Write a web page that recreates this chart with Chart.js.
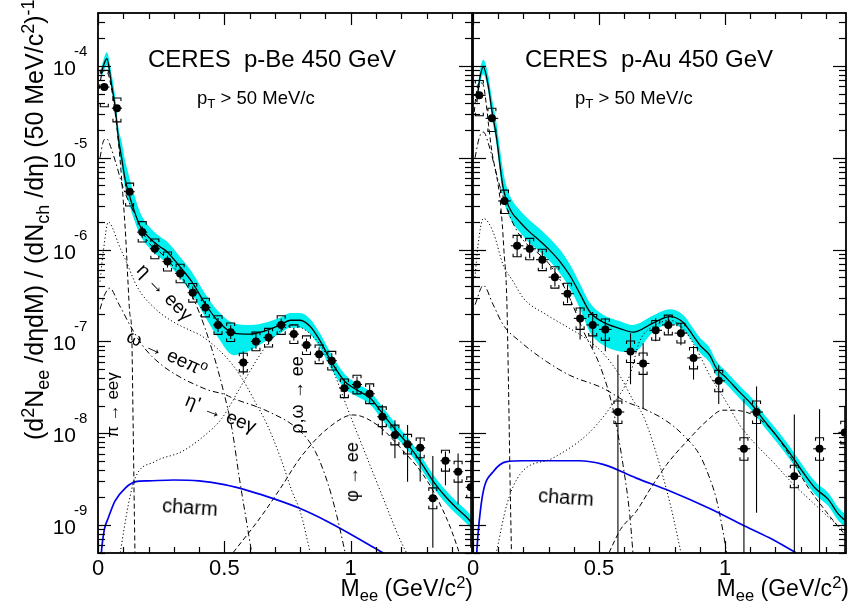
<!DOCTYPE html>
<html>
<head>
<meta charset="utf-8">
<title>CERES p-Be and p-Au 450 GeV</title>
<script src="https://cdn.jsdelivr.net/npm/chart.js@4.4.1/dist/chart.umd.min.js"></script>
<style>
  html,body{margin:0;padding:0;background:#fff;}
  #wrap{position:relative;width:850px;height:609px;overflow:hidden;font-family:"Liberation Sans",Arial,Helvetica,sans-serif;color:#000;}
  canvas{position:absolute;top:0;}
  .t{position:absolute;white-space:pre;line-height:1;}
  .sb{font-size:72%;vertical-align:-0.32em;line-height:0;}
  .sp{font-size:72%;vertical-align:0.5em;line-height:0;}
  .lab{position:absolute;white-space:pre;line-height:1;font-size:18px;}
</style>
</head>
<body>
<div id="wrap">
  <canvas id="cBe" width="476" height="609" style="left:0px"></canvas>
  <canvas id="cAu" width="400" height="609" style="left:450px"></canvas>

  <div class="t" style="left:148px;top:46.7px;font-size:24px">CERES  p-Be 450 GeV</div>
  <div class="t" style="left:525px;top:46.7px;font-size:24px">CERES  p-Au 450 GeV</div>
  <div class="t" style="left:197px;top:88.5px;font-size:18.5px">p<span class="sb">T</span> &gt; 50 MeV/c</div>
  <div class="t" style="left:575px;top:88.5px;font-size:18.5px">p<span class="sb">T</span> &gt; 50 MeV/c</div>

  <div class="t" style="right:377px;top:576.5px;font-size:23px">M<span class="sb">ee</span> (GeV/c<span class="sp">2</span>)</div>
  <div class="t" style="right:1px;top:576.5px;font-size:23px">M<span class="sb">ee</span> (GeV/c<span class="sp">2</span>)</div>

  <div class="t" style="left:22px;top:440px;font-size:25px;transform-origin:0 0;transform:rotate(-90deg)">(d<span class="sp">2</span>N<span class="sb">ee</span> /dηdM) / (dN<span class="sb">ch</span> /dη) (50 MeV/c<span class="sp">2</span>)<span class="sp">-1</span></div>

  <div class="lab" style="left:165px;top:292px;font-size:19px;transform:translate(-50%,-50%) rotate(46deg)">η → eeγ</div>
  <div class="lab" style="left:167px;top:353px;font-size:19px;transform:translate(-50%,-50%) rotate(25deg)">ω → eeπ<span class="sp">o</span></div>
  <div class="lab" style="left:221px;top:413px;font-size:19px;transform:translate(-50%,-50%) rotate(22deg)">η' → eeγ</div>
  <div class="lab" style="left:112px;top:405px;font-size:17px;transform:translate(-50%,-50%) rotate(-90deg)">π → eeγ</div>
  <div class="lab" style="left:297px;top:395px;transform:translate(-50%,-50%) rotate(-90deg)">ρ,ω → ee</div>
  <div class="lab" style="left:352px;top:472px;transform:translate(-50%,-50%) rotate(-90deg)">φ → ee</div>
  <div class="lab" style="left:190px;top:507px;font-size:20px;transform:translate(-50%,-50%) rotate(4deg)">charm</div>
  <div class="lab" style="left:566px;top:497px;font-size:20px;transform:translate(-50%,-50%) rotate(4deg)">charm</div>
</div>

<script>
// ---------------- axes ----------------
const X_MIN = 0, X_MAX = 1.48;
const Y_MIN = 4.95e-10, Y_MAX = 3.78e-4;
const X_TICKS = [0, 0.1, 0.2, 0.3, 0.4, 0.5, 0.6, 0.7, 0.8, 0.9, 1.0, 1.1, 1.2, 1.3, 1.4];
const X_MAJOR = [0, 0.5, 1.0];
const X_TICK_LABELS = ['0', '0.5', '1'];
const Y_DECADES = [-9, -8, -7, -6, -5, -4];

// ---------------- p-Be 450 GeV : data ----------------
const beMass = [0.025,0.075,0.125,0.175,0.225,0.275,0.325,0.375,0.425,0.475,0.525,0.575,0.625,0.675,0.725,0.775,0.825,0.875,0.925,0.975,1.025,1.075,1.125,1.175,1.225,1.275,1.325,1.375,1.425,1.475];
const beYield = [5.89e-5,3.47e-5,4.27e-6,1.55e-6,1.02e-6,7.41e-7,5.50e-7,3.39e-7,2.34e-7,1.51e-7,1.26e-7,5.89e-8,1.00e-7,1.10e-7,1.51e-7,1.20e-7,9.12e-8,7.24e-8,6.17e-8,3.09e-8,3.39e-8,2.69e-8,1.51e-8,9.55e-9,7.59e-9,6.92e-9,1.95e-9,5.01e-9,3.80e-9,2.57e-9];
const beStatUp = [0.06,0.08,0.10,0.15,0.15,0.16,0.17,0.17,0.18,0.19,0.19,0.32,0.20,0.19,0.17,0.17,0.18,0.19,0.20,0.25,0.22,0.25,0.35,0.45,0.62,0.30,1.90,0.26,0.58,1.00];
const beStatDn = [0.06,0.08,0.09,0.13,0.13,0.14,0.14,0.15,0.15,0.16,0.16,0.26,0.17,0.16,0.15,0.15,0.15,0.16,0.17,0.22,0.20,0.22,0.37,0.44,0.61,0.57,0.71,0.46,0.56,0.78];
const beSysUp = [0.52,0.29,0.24,0.30,0.28,0.27,0.26,0.26,0.26,0.26,0.26,0.26,0.26,0.26,0.26,0.26,0.26,0.26,0.26,0.26,0.26,0.28,0.28,0.28,0.28,0.28,0.30,0.30,0.30,0.30];
const beSysDn = [0.39,0.29,0.30,0.22,0.22,0.21,0.21,0.21,0.21,0.21,0.21,0.21,0.21,0.21,0.21,0.21,0.21,0.21,0.21,0.21,0.21,0.22,0.22,0.22,0.22,0.22,0.23,0.23,0.23,0.23];

// ---------------- p-Be : cocktail ----------------
const beTotMass = [0.012,0.021,0.035,0.054,0.067,0.081,0.094,0.107,0.120,0.140,0.166,0.206,0.246,0.272,0.325,0.371,0.424,0.475,0.536,0.602,0.668,0.722,0.761,0.800,0.840,0.880,0.923,0.978,1.025,1.078,1.124,1.176,1.223,1.276,1.328,1.375,1.421,1.461,1.480];
const beTotal = [8.13e-5,1.00e-4,1.20e-4,6.17e-5,3.72e-5,1.62e-5,9.77e-6,5.89e-6,4.27e-6,2.82e-6,1.82e-6,1.32e-6,1.07e-6,9.55e-7,6.46e-7,4.47e-7,2.57e-7,1.66e-7,1.23e-7,1.20e-7,1.32e-7,1.51e-7,1.70e-7,1.70e-7,1.45e-7,1.00e-7,6.03e-8,3.63e-8,2.95e-8,2.40e-8,1.66e-8,1.10e-8,7.76e-9,4.90e-9,2.95e-9,2.04e-9,1.51e-9,1.20e-9,1.05e-9];
const beBandHi = [9.33e-5,1.15e-4,1.41e-4,8.13e-5,4.90e-5,2.14e-5,1.48e-5,9.33e-6,6.76e-6,4.27e-6,2.57e-6,1.74e-6,1.38e-6,1.23e-6,8.32e-7,5.75e-7,3.31e-7,2.14e-7,1.58e-7,1.51e-7,1.62e-7,1.82e-7,2.04e-7,2.04e-7,1.74e-7,1.20e-7,7.24e-8,4.37e-8,3.47e-8,2.82e-8,1.95e-8,1.29e-8,9.12e-9,5.75e-9,3.47e-9,2.40e-9,1.78e-9,1.41e-9,1.23e-9];
const beBandLo = [6.92e-5,8.51e-5,1.02e-4,5.37e-5,3.24e-5,1.35e-5,7.76e-6,4.68e-6,3.39e-6,2.24e-6,1.45e-6,1.02e-6,8.13e-7,7.24e-7,4.90e-7,3.31e-7,1.86e-7,1.10e-7,7.08e-8,7.94e-8,1.02e-7,1.23e-7,1.41e-7,1.41e-7,1.20e-7,8.32e-8,5.01e-8,3.02e-8,2.51e-8,2.04e-8,1.41e-8,9.33e-9,6.61e-9,4.17e-9,2.51e-9,1.74e-9,1.29e-9,1.02e-9,8.91e-10];

const bePi0Mass = [0.005,0.012,0.024,0.039,0.055,0.071,0.087,0.098,0.110,0.118,0.126,0.133,0.139,0.144,0.148];
const bePi0 = [5.62e-5,7.59e-5,8.91e-5,8.32e-5,5.37e-5,2.63e-5,9.77e-6,4.07e-6,1.32e-6,4.79e-7,2.00e-7,1.35e-7,1.26e-8,1.26e-9,2.51e-10];
const beEtaMass = [0.008,0.020,0.034,0.050,0.070,0.100,0.150,0.200,0.250,0.300,0.350,0.400,0.450,0.500,0.530,0.560,0.590,0.620];
const beEta = [1.00e-5,1.48e-5,1.62e-5,1.32e-5,8.91e-6,4.68e-6,2.29e-6,1.20e-6,9.12e-7,6.46e-7,4.17e-7,2.09e-7,8.32e-8,2.63e-8,1.12e-8,3.16e-9,1.00e-9,3.16e-10];
const beOmegaDalMass = [0.008,0.021,0.041,0.060,0.080,0.107,0.158,0.225,0.293,0.372,0.405,0.473,0.534,0.580,0.620,0.668,0.720,0.770,0.800,0.840];
const beOmegaDal = [4.47e-7,9.55e-7,2.00e-6,1.66e-6,1.17e-6,7.94e-7,3.80e-7,2.29e-7,1.66e-7,1.29e-7,1.17e-7,8.32e-8,5.50e-8,3.55e-8,2.24e-8,1.26e-8,5.62e-9,2.24e-9,1.41e-9,5.01e-10];
const beEtaPrMass = [0.008,0.025,0.047,0.080,0.134,0.186,0.253,0.332,0.384,0.436,0.503,0.534,0.670,0.800,0.860,0.910,0.945,0.970,0.985];
const beEtaPr = [2.24e-7,3.16e-7,3.80e-7,2.63e-7,1.38e-7,8.32e-8,5.50e-8,3.98e-8,3.39e-8,2.95e-8,2.63e-8,2.40e-8,1.74e-8,1.05e-8,6.31e-9,2.82e-9,1.26e-9,6.31e-10,3.98e-10];
const beRhoMass = [0.088,0.120,0.147,0.225,0.332,0.424,0.490,0.576,0.668,0.725,0.775,0.805,0.845,0.890,0.935,0.990,1.065,1.130,1.197,1.260];
const beRho = [5.01e-10,1.66e-9,3.24e-9,4.90e-9,6.31e-9,9.55e-9,1.45e-8,3.63e-8,9.12e-8,1.32e-7,1.51e-7,1.41e-7,1.17e-7,8.32e-8,4.47e-8,1.78e-8,5.37e-9,1.91e-9,6.76e-10,3.16e-10];
const bePhiMass = [0.535,0.642,0.722,0.800,0.908,1.010,1.105,1.197,1.303,1.383,1.422,1.440];
const bePhi = [5.01e-10,1.20e-9,2.51e-9,5.37e-9,1.12e-8,1.58e-8,1.23e-8,6.92e-9,3.02e-9,1.12e-9,5.75e-10,3.98e-10];
const beCharmMass = [0.010,0.015,0.025,0.041,0.067,0.107,0.147,0.200,0.300,0.400,0.500,0.600,0.700,0.800,0.900,1.000,1.100,1.150];
const beCharm = [3.55e-10,5.62e-10,8.91e-10,1.20e-9,1.82e-9,2.51e-9,2.95e-9,3.02e-9,3.09e-9,3.02e-9,2.75e-9,2.34e-9,1.91e-9,1.51e-9,1.12e-9,7.94e-10,5.50e-10,4.57e-10];

// ---------------- p-Au 450 GeV : data ----------------
const auMass = [0.025,0.075,0.125,0.175,0.225,0.275,0.325,0.375,0.425,0.475,0.525,0.575,0.625,0.675,0.725,0.775,0.825,0.875,0.975,1.075,1.125,1.275,1.375,1.475];
const auYield = [4.79e-5,2.69e-5,3.39e-6,1.10e-6,1.02e-6,7.76e-7,5.01e-7,3.31e-7,1.78e-7,1.51e-7,1.35e-7,1.70e-8,7.76e-8,5.75e-8,1.32e-7,1.51e-7,1.23e-7,6.61e-8,3.72e-8,6.76e-9,1.70e-8,3.39e-9,6.76e-9,1.02e-8];
const auStatUp = [0.06,0.07,0.10,0.30,0.26,0.26,0.26,0.26,0.32,0.38,0.32,3.2,0.58,0.66,0.35,0.26,0.29,0.35,0.48,2.5,0.90,3.7,1.7,0.90];
const auStatDn = [0.06,0.07,0.09,0.24,0.21,0.21,0.21,0.21,0.41,0.44,0.42,0.99,0.56,0.68,0.24,0.21,0.26,0.42,0.44,0.99,0.92,0.99,0.99,0.99];
const auSysUp = [0.45,0.29,0.31,0.30,0.30,0.30,0.30,0.30,0.30,0.30,0.30,0.32,0.30,0.30,0.28,0.28,0.28,0.30,0.30,0.32,0.32,0.32,0.32,0.32];
const auSysDn = [0.40,0.28,0.27,0.24,0.24,0.24,0.24,0.24,0.24,0.24,0.24,0.25,0.24,0.24,0.22,0.22,0.22,0.24,0.24,0.25,0.25,0.25,0.25,0.25];

// ---------------- p-Au : cocktail ----------------
const auTotMass = [0.015,0.028,0.041,0.060,0.074,0.094,0.107,0.118,0.131,0.153,0.186,0.225,0.259,0.302,0.345,0.384,0.424,0.464,0.516,0.583,0.635,0.714,0.781,0.833,0.872,0.900,0.939,0.965,1.006,1.057,1.107,1.157,1.208,1.258,1.308,1.358,1.409,1.449,1.480];
const auTotal = [4.07e-5,7.59e-5,9.77e-5,6.17e-5,3.39e-5,1.62e-5,8.32e-6,5.01e-6,3.55e-6,2.57e-6,2.00e-6,1.55e-6,1.29e-6,1.00e-6,7.41e-7,5.25e-7,3.31e-7,2.09e-7,1.62e-7,1.38e-7,1.26e-7,1.58e-7,1.86e-7,1.62e-7,1.17e-7,9.12e-8,7.08e-8,5.13e-8,3.98e-8,2.82e-8,2.04e-8,1.35e-8,9.12e-9,6.03e-9,3.80e-9,2.51e-9,1.91e-9,1.32e-9,1.10e-9];
const auBandHi = [4.90e-5,9.12e-5,1.17e-4,8.13e-5,4.68e-5,2.34e-5,1.26e-5,7.59e-6,5.13e-6,3.55e-6,2.69e-6,2.09e-6,1.74e-6,1.35e-6,1.00e-6,6.92e-7,4.27e-7,2.63e-7,1.95e-7,1.66e-7,1.51e-7,1.91e-7,2.24e-7,1.95e-7,1.41e-7,1.10e-7,8.51e-8,6.17e-8,4.68e-8,3.31e-8,2.40e-8,1.58e-8,1.07e-8,7.08e-9,4.47e-9,2.95e-9,2.24e-9,1.55e-9,1.29e-9];
const auBandLo = [3.39e-5,6.31e-5,8.13e-5,5.37e-5,2.88e-5,1.35e-5,6.76e-6,3.98e-6,2.82e-6,2.04e-6,1.55e-6,1.17e-6,9.77e-7,7.59e-7,5.50e-7,3.80e-7,2.29e-7,1.26e-7,9.12e-8,7.76e-8,7.59e-8,1.26e-7,1.55e-7,1.35e-7,9.77e-8,7.59e-8,5.89e-8,4.27e-8,3.39e-8,2.40e-8,1.74e-8,1.15e-8,7.76e-9,5.13e-9,3.24e-9,2.14e-9,1.62e-9,1.12e-9,9.33e-10];

const auPi0Mass = [0.005,0.012,0.025,0.040,0.052,0.062,0.076,0.094,0.106,0.116,0.123,0.134,0.141,0.147,0.154];
const auPi0 = [3.16e-5,4.79e-5,6.61e-5,6.31e-5,3.98e-5,2.24e-5,1.12e-5,6.31e-6,3.80e-6,1.91e-6,9.55e-7,2.95e-7,3.16e-8,3.16e-9,3.16e-10];
const auEtaMass = [0.008,0.025,0.041,0.067,0.100,0.150,0.200,0.250,0.300,0.350,0.384,0.440,0.503,0.555,0.595,0.622,0.636];
const auEta = [1.00e-5,1.66e-5,1.91e-5,1.26e-5,5.62e-6,2.19e-6,1.26e-6,9.55e-7,7.08e-7,4.47e-7,2.95e-7,1.26e-7,5.50e-8,1.86e-8,4.57e-9,1.29e-9,4.47e-10];
const auOmegaDalMass = [0.008,0.020,0.041,0.080,0.120,0.160,0.200,0.292,0.384,0.453,0.523,0.584,0.637,0.674,0.725,0.785,0.825];
const auOmegaDal = [5.01e-7,1.12e-6,2.19e-6,1.55e-6,6.76e-7,4.47e-7,2.95e-7,1.95e-7,1.38e-7,1.05e-7,7.08e-8,4.17e-8,2.24e-8,1.58e-8,6.31e-9,1.58e-9,5.01e-10];
const auEtaPrMass = [0.008,0.041,0.080,0.120,0.186,0.292,0.384,0.516,0.609,0.675,0.769,0.834,0.900,0.939,0.965,0.992,1.006];
const auEtaPr = [2.51e-7,4.07e-7,2.51e-7,1.51e-7,1.00e-7,6.03e-8,4.27e-8,3.09e-8,2.19e-8,1.86e-8,1.35e-8,9.55e-9,5.75e-9,3.24e-9,1.95e-9,8.51e-10,5.01e-10];
const auRhoMass = [0.094,0.134,0.186,0.318,0.451,0.542,0.622,0.661,0.726,0.781,0.833,0.886,0.939,1.005,1.058,1.111,1.189,1.269,1.350,1.437,1.480];
const auRho = [5.25e-10,1.66e-9,3.55e-9,5.37e-9,9.55e-9,1.86e-8,4.27e-8,1.00e-7,1.51e-7,1.70e-7,1.38e-7,8.32e-8,4.27e-8,2.19e-8,1.23e-8,8.13e-9,4.90e-9,2.82e-9,1.74e-9,1.05e-9,8.51e-10];
const auPhiMass = [0.540,0.585,0.648,0.705,0.769,0.848,0.939,0.990,1.030,1.111,1.189,1.269,1.320,1.400,1.480];
const auPhi = [5.01e-10,8.91e-10,1.41e-9,2.51e-9,4.57e-9,8.13e-9,1.45e-8,1.78e-8,1.78e-8,1.58e-8,1.05e-8,5.01e-9,2.82e-9,1.41e-9,7.59e-10];
const auCharmMass = [0.012,0.016,0.025,0.041,0.080,0.134,0.200,0.300,0.420,0.516,0.648,0.781,0.939,1.070,1.176,1.280];
const auCharm = [3.16e-10,5.62e-10,1.12e-9,2.34e-9,3.80e-9,4.90e-9,5.01e-9,5.01e-9,5.01e-9,4.57e-9,3.24e-9,2.34e-9,1.51e-9,1.00e-9,7.24e-10,5.01e-10];

// ---------------- helpers ----------------
const FONT = '"Liberation Sans", Arial, Helvetica, sans-serif';
const CYAN = '#00f0f0';
const DASH = [5, 3], DOT = [1.2, 2.4], DASHDOT = [6, 3, 1.5, 3];

function pts(xs, ys) { return xs.map((x, i) => ({ x: x, y: ys[i] })); }

function curve(xs, ys, color, width, dash, order) {
  return {
    data: pts(xs, ys), borderColor: color, borderWidth: width, borderDash: dash || [],
    pointRadius: 0, fill: false, tension: 0.4, cubicInterpolationMode: 'monotone', order: order
  };
}

function rootPlugin(p) {
  function seg(ctx, x0, y0, x1, y1) { ctx.beginPath(); ctx.moveTo(x0, y0); ctx.lineTo(x1, y1); ctx.stroke(); }
  return {
    id: 'rootStyle',
    afterDatasetsDraw(chart) {
      const ctx = chart.ctx, a = chart.chartArea, xs = chart.scales.x, ys = chart.scales.y;
      ctx.save();
      ctx.beginPath(); ctx.rect(a.left, a.top, a.right - a.left, a.bottom - a.top); ctx.clip();
      ctx.strokeStyle = '#000'; ctx.lineWidth = 1.1;
      p.mass.forEach((m, i) => {
        const v = p.val[i];
        const px = xs.getPixelForValue(m), py = ys.getPixelForValue(v);
        seg(ctx, xs.getPixelForValue(m - p.halfBin), py, xs.getPixelForValue(m + p.halfBin), py);
        seg(ctx, px, ys.getPixelForValue(v * (1 + p.statUp[i])), px, ys.getPixelForValue(v * (1 - p.statDn[i])));
        const st = ys.getPixelForValue(v * (1 + p.sysUp[i])), sb = ys.getPixelForValue(v * (1 - p.sysDn[i]));
        ctx.beginPath();
        ctx.moveTo(px - 4, st + 3); ctx.lineTo(px - 4, st); ctx.lineTo(px + 4, st); ctx.lineTo(px + 4, st + 3);
        ctx.moveTo(px - 4, sb - 3); ctx.lineTo(px - 4, sb); ctx.lineTo(px + 4, sb); ctx.lineTo(px + 4, sb - 3);
        ctx.stroke();
      });
      ctx.restore();
    },
    afterDraw(chart) {
      const ctx = chart.ctx, a = chart.chartArea, xs = chart.scales.x, ys = chart.scales.y;
      ctx.save();
      ctx.strokeStyle = '#000';
      ctx.lineWidth = 1.2;
      X_TICKS.forEach(v => {
        const px = Math.round(xs.getPixelForValue(v)) + 0.5;
        const len = X_MAJOR.indexOf(v) >= 0 ? 12 : 6;
        seg(ctx, px, a.bottom, px, a.bottom - len);
        seg(ctx, px, a.top, px, a.top + len);
      });
      for (let e = -10; e <= -3; e++) {
        for (let k = 1; k <= 9; k++) {
          const v = k * Math.pow(10, e);
          if (v < ys.min || v > ys.max) continue;
          const py = Math.round(ys.getPixelForValue(v)) + 0.5;
          const len = k === 1 ? 13 : 7;
          seg(ctx, a.left, py, a.left + len, py);
          seg(ctx, a.right, py, a.right - len, py);
        }
      }
      ctx.lineWidth = 1.8;
      ctx.strokeRect(a.left, a.top, a.right - a.left, a.bottom - a.top);
      ctx.fillStyle = '#000';
      ctx.font = '22px ' + FONT;
      ctx.textAlign = 'center'; ctx.textBaseline = 'alphabetic';
      X_MAJOR.forEach((v, i) => ctx.fillText(X_TICK_LABELS[i], xs.getPixelForValue(v), a.bottom + 22));
      if (p.yLabels) {
        Y_DECADES.forEach(e => {
          const py = ys.getPixelForValue(Math.pow(10, e));
          ctx.font = '21px ' + FONT; ctx.textAlign = 'right';
          ctx.fillText('10', a.left - 22, py + 9);
          ctx.font = '15px ' + FONT; ctx.textAlign = 'left';
          ctx.fillText('-' + Math.abs(e), a.left - 24, py - 10);
        });
      }
      ctx.restore();
    }
  };
}

function makePanel(id, pad, d) {
  const datasets = [
    { data: pts(d.mass, d.val), showLine: false, pointRadius: 4, pointBackgroundColor: '#000', pointBorderWidth: 0, order: 0 },
    curve(d.totMass, d.total, '#000', 1.3, null, 1),
    curve(d.pi0Mass, d.pi0, '#000', 1, DASH, 2),
    curve(d.etaMass, d.eta, '#000', 1, DASHDOT, 2),
    curve(d.omMass, d.om, '#000', 1, DOT, 2),
    curve(d.epMass, d.ep, '#000', 1, DASHDOT, 2),
    curve(d.rhoMass, d.rho, '#000', 1, DOT, 2),
    curve(d.phiMass, d.phi, '#000', 1, DASH, 2),
    curve(d.chMass, d.ch, '#0000ee', 1.7, null, 2),
    { data: pts(d.totMass, d.hi), borderWidth: 0, pointRadius: 0, backgroundColor: CYAN, fill: '+1', tension: 0.4, cubicInterpolationMode: 'monotone', order: 3 },
    { data: pts(d.totMass, d.lo), borderWidth: 0, pointRadius: 0, fill: false, tension: 0.4, cubicInterpolationMode: 'monotone', order: 3 }
  ];
  return new Chart(document.getElementById(id), {
    type: 'line',
    data: { datasets: datasets },
    options: {
      responsive: false, animation: false, devicePixelRatio: 1,
      layout: { padding: pad },
      plugins: { legend: { display: false }, tooltip: { enabled: false } },
      events: [],
      scales: {
        x: { type: 'linear', min: X_MIN, max: X_MAX, display: false, bounds: 'data' },
        y: { type: 'logarithmic', min: Y_MIN, max: Y_MAX, display: false, bounds: 'data' }
      }
    },
    plugins: [rootPlugin({ mass: d.mass, val: d.val, statUp: d.statUp, statDn: d.statDn, sysUp: d.sysUp, sysDn: d.sysDn, halfBin: d.halfBin, yLabels: d.yLabels })]
  });
}

makePanel('cBe', { left: 98, right: 4, top: 13, bottom: 56 }, {
  mass: beMass, val: beYield, statUp: beStatUp, statDn: beStatDn, sysUp: beSysUp, sysDn: beSysDn, halfBin: 0.02, yLabels: true,
  totMass: beTotMass, total: beTotal, hi: beBandHi, lo: beBandLo,
  pi0Mass: bePi0Mass, pi0: bePi0, etaMass: beEtaMass, eta: beEta, omMass: beOmegaDalMass, om: beOmegaDal,
  epMass: beEtaPrMass, ep: beEtaPr, rhoMass: beRhoMass, rho: beRho, phiMass: bePhiMass, phi: bePhi,
  chMass: beCharmMass, ch: beCharm
});

makePanel('cAu', { left: 23, right: 3, top: 13, bottom: 56 }, {
  mass: auMass, val: auYield, statUp: auStatUp, statDn: auStatDn, sysUp: auSysUp, sysDn: auSysDn, halfBin: 0.025, yLabels: false,
  totMass: auTotMass, total: auTotal, hi: auBandHi, lo: auBandLo,
  pi0Mass: auPi0Mass, pi0: auPi0, etaMass: auEtaMass, eta: auEta, omMass: auOmegaDalMass, om: auOmegaDal,
  epMass: auEtaPrMass, ep: auEtaPr, rhoMass: auRhoMass, rho: auRho, phiMass: auPhiMass, phi: auPhi,
  chMass: auCharmMass, ch: auCharm
});
</script>
</body>
</html>
